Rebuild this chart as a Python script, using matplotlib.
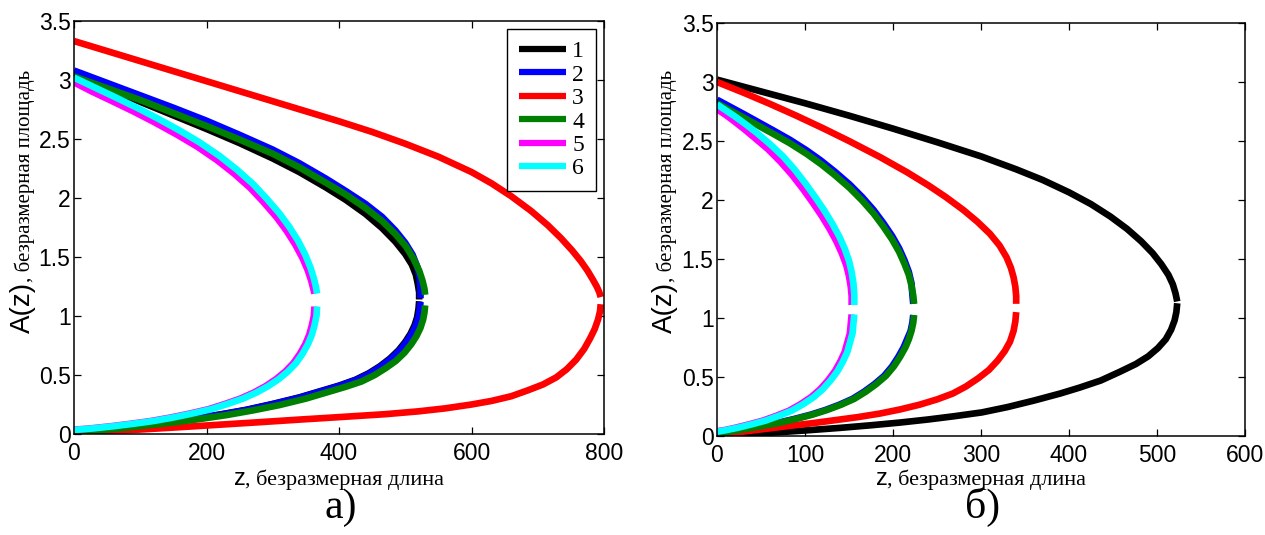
import matplotlib
matplotlib.use("Agg")
import matplotlib.pyplot as plt

# ---------------- data: panel a) (z, A) for upper and lower branches ----------------
a1_up_z = [0, 50, 100, 150, 200, 250, 300, 340, 380, 410, 440, 465, 485, 500, 510, 516, 519, 521, 521]
a1_up_A = [3.04, 2.93, 2.815, 2.70, 2.585, 2.465, 2.335, 2.22, 2.09, 1.985, 1.865, 1.745, 1.63, 1.525, 1.435, 1.35, 1.27, 1.20, 1.14]
a1_lo_z = [521, 520, 518, 514, 508, 500, 490, 477, 462, 445, 425, 400, 370, 340, 300, 260, 220, 180, 140, 100, 60, 30, 0]
a1_lo_A = [1.125, 1.06, 0.99, 0.92, 0.85, 0.78, 0.71, 0.64, 0.575, 0.515, 0.46, 0.41, 0.36, 0.31, 0.255, 0.205, 0.165, 0.13, 0.10, 0.072, 0.048, 0.035, 0.025]

a2_up_z = [0, 50, 100, 150, 200, 250, 300, 340, 380, 410, 440, 465, 485, 500, 511, 518, 522, 523, 523]
a2_up_A = [3.08, 2.975, 2.87, 2.765, 2.655, 2.535, 2.41, 2.295, 2.165, 2.06, 1.95, 1.84, 1.725, 1.62, 1.52, 1.42, 1.32, 1.23, 1.15]
a2_lo_z = [523, 522, 520, 516, 510, 502, 492, 479, 464, 447, 427, 402, 372, 342, 302, 262, 222, 182, 142, 102, 62, 31, 0]
a2_lo_A = [1.12, 1.06, 0.99, 0.92, 0.85, 0.78, 0.71, 0.64, 0.575, 0.515, 0.46, 0.41, 0.36, 0.31, 0.255, 0.205, 0.165, 0.13, 0.10, 0.072, 0.048, 0.035, 0.025]

a3_up_z = [0, 50, 100, 150, 200, 250, 300, 350, 400, 450, 500, 550, 600, 630, 660, 690, 715, 735, 752, 765, 775, 783, 789, 793, 795]
a3_up_A = [3.33, 3.245, 3.16, 3.075, 2.99, 2.905, 2.82, 2.735, 2.65, 2.56, 2.46, 2.35, 2.22, 2.125, 2.015, 1.89, 1.77, 1.66, 1.555, 1.465, 1.385, 1.31, 1.25, 1.20, 1.16]
a3_lo_z = [795, 794, 791, 786, 779, 770, 758, 744, 728, 708, 685, 660, 630, 600, 560, 520, 470, 400, 340, 280, 220, 160, 100, 50, 0]
a3_lo_A = [1.10, 1.04, 0.97, 0.89, 0.81, 0.72, 0.63, 0.55, 0.48, 0.42, 0.37, 0.32, 0.28, 0.25, 0.217, 0.192, 0.168, 0.143, 0.122, 0.10, 0.079, 0.058, 0.038, 0.023, 0.01]

a4_up_z = [0, 50, 100, 150, 200, 250, 300, 340, 380, 410, 440, 465, 485, 501, 513, 521, 526, 529, 530]
a4_up_A = [3.03, 2.93, 2.83, 2.72, 2.61, 2.495, 2.375, 2.26, 2.13, 2.03, 1.915, 1.805, 1.695, 1.59, 1.48, 1.385, 1.30, 1.23, 1.18]
a4_lo_z = [530, 529, 527, 523, 517, 509, 499, 486, 471, 454, 434, 410, 380, 350, 310, 270, 230, 190, 150, 110, 70, 35, 0]
a4_lo_A = [1.09, 1.03, 0.97, 0.90, 0.83, 0.76, 0.69, 0.62, 0.56, 0.50, 0.445, 0.40, 0.35, 0.30, 0.245, 0.20, 0.16, 0.127, 0.098, 0.072, 0.048, 0.032, 0.02]

a5_up_z = [0, 26, 56, 91, 122, 156, 186, 216, 242, 266, 286, 306, 321, 334, 345, 353, 358, 361, 363]
a5_up_A = [2.98, 2.905, 2.825, 2.73, 2.64, 2.535, 2.435, 2.32, 2.205, 2.085, 1.965, 1.835, 1.72, 1.605, 1.49, 1.385, 1.30, 1.235, 1.19]
a5_lo_z = [363, 362, 359, 355, 349, 341, 331, 319, 305, 289, 271, 251, 228, 203, 176, 146, 116, 86, 56, 26, 0]
a5_lo_A = [1.08, 1.0, 0.92, 0.84, 0.76, 0.68, 0.60, 0.53, 0.465, 0.405, 0.35, 0.30, 0.255, 0.21, 0.175, 0.14, 0.11, 0.087, 0.066, 0.048, 0.036]

a6_up_z = [0, 30, 60, 95, 126, 160, 190, 220, 246, 270, 290, 310, 325, 338, 349, 357, 362, 365, 367]
a6_up_A = [3.02, 2.94, 2.86, 2.765, 2.675, 2.57, 2.47, 2.355, 2.24, 2.12, 2.0, 1.87, 1.755, 1.64, 1.52, 1.41, 1.32, 1.25, 1.19]
a6_lo_z = [367, 366, 363, 359, 353, 345, 335, 323, 309, 293, 275, 255, 232, 207, 180, 150, 120, 90, 60, 30, 0]
a6_lo_A = [1.08, 1.0, 0.92, 0.84, 0.76, 0.68, 0.60, 0.53, 0.465, 0.405, 0.35, 0.30, 0.255, 0.21, 0.175, 0.14, 0.11, 0.087, 0.066, 0.048, 0.034]

# ---------------- data: panel б) ----------------
b1_up_z = [0, 50, 100, 150, 200, 250, 300, 340, 370, 400, 425, 447, 466, 482, 495, 505, 513, 518, 521, 523]
b1_up_A = [3.02, 2.92, 2.82, 2.715, 2.605, 2.49, 2.37, 2.26, 2.17, 2.065, 1.965, 1.86, 1.755, 1.65, 1.55, 1.455, 1.365, 1.285, 1.21, 1.14]
b1_lo_z = [523, 522, 520, 516, 510, 501, 490, 476, 458, 436, 412, 390, 360, 330, 301, 270, 240, 208, 175, 140, 102, 70, 35, 0]
b1_lo_A = [1.125, 1.05, 0.98, 0.90, 0.82, 0.745, 0.675, 0.61, 0.545, 0.47, 0.41, 0.36, 0.30, 0.245, 0.20, 0.168, 0.14, 0.114, 0.091, 0.069, 0.048, 0.032, 0.017, 0.005]

b2_up_z = [0, 15, 30, 47, 64, 83, 102, 118, 134, 151, 165, 178, 189, 199, 207, 213, 218, 221, 222, 223]
b2_up_A = [2.85, 2.79, 2.73, 2.66, 2.59, 2.51, 2.42, 2.335, 2.24, 2.13, 2.025, 1.915, 1.805, 1.695, 1.59, 1.49, 1.39, 1.295, 1.20, 1.12]
b2_lo_z = [223, 222, 220, 216, 212, 206, 199, 190, 179, 167, 154, 139, 123, 106, 88, 68, 48, 28, 12, 0]
b2_lo_A = [1.025, 0.96, 0.89, 0.82, 0.75, 0.67, 0.59, 0.51, 0.44, 0.375, 0.315, 0.265, 0.22, 0.18, 0.145, 0.11, 0.082, 0.056, 0.038, 0.02]

b3_up_z = [0, 30, 60, 90, 120, 150, 185, 216, 240, 260, 280, 296, 310, 321, 329, 334, 337, 339, 340, 340]
b3_up_A = [3.0, 2.91, 2.815, 2.715, 2.61, 2.50, 2.365, 2.235, 2.125, 2.025, 1.915, 1.815, 1.715, 1.615, 1.515, 1.425, 1.345, 1.265, 1.185, 1.12]
b3_lo_z = [340, 339, 337, 333, 327, 319, 309, 297, 283, 268, 250, 230, 208, 185, 160, 135, 110, 85, 57, 28, 0]
b3_lo_A = [1.05, 0.97, 0.89, 0.80, 0.72, 0.64, 0.56, 0.49, 0.42, 0.36, 0.31, 0.265, 0.225, 0.19, 0.16, 0.135, 0.11, 0.088, 0.062, 0.036, 0.01]

b4_up_z = [0, 15, 30, 47, 64, 83, 102, 118, 134, 151, 165, 178, 189, 199, 207, 213, 218, 221, 223, 224]
b4_up_A = [2.82, 2.76, 2.70, 2.63, 2.56, 2.48, 2.39, 2.305, 2.21, 2.10, 1.995, 1.885, 1.775, 1.665, 1.56, 1.46, 1.365, 1.275, 1.19, 1.12]
b4_lo_z = [224, 223, 221, 218, 214, 208, 201, 192, 181, 169, 156, 141, 125, 108, 90, 70, 50, 30, 14, 0]
b4_lo_A = [1.025, 0.96, 0.89, 0.82, 0.75, 0.67, 0.59, 0.51, 0.44, 0.375, 0.315, 0.265, 0.22, 0.18, 0.145, 0.11, 0.082, 0.056, 0.038, 0.02]

b5_up_z = [0, 10, 19, 31, 43, 58, 72, 85, 98, 109, 119, 128, 136, 142, 147, 150, 152, 153, 153]
b5_up_A = [2.77, 2.72, 2.67, 2.60, 2.525, 2.43, 2.325, 2.215, 2.09, 1.975, 1.865, 1.755, 1.645, 1.545, 1.445, 1.355, 1.265, 1.185, 1.11]
b5_lo_z = [153, 152, 151, 148, 145, 140, 134, 126, 117, 107, 95, 82, 67, 52, 37, 22, 10, 0]
b5_lo_A = [1.03, 0.95, 0.87, 0.79, 0.71, 0.63, 0.55, 0.47, 0.395, 0.33, 0.27, 0.215, 0.17, 0.13, 0.10, 0.072, 0.052, 0.04]

b6_up_z = [0, 10, 20, 32, 45, 60, 75, 88, 101, 112, 122, 131, 139, 145, 150, 153, 155, 156, 156]
b6_up_A = [2.81, 2.76, 2.71, 2.645, 2.57, 2.475, 2.37, 2.26, 2.135, 2.02, 1.91, 1.80, 1.69, 1.59, 1.485, 1.39, 1.295, 1.20, 1.11]
b6_lo_z = [156, 155, 154, 151, 148, 143, 137, 129, 120, 110, 98, 85, 70, 55, 40, 25, 12, 0]
b6_lo_A = [1.03, 0.95, 0.87, 0.79, 0.71, 0.63, 0.55, 0.47, 0.395, 0.33, 0.27, 0.215, 0.17, 0.13, 0.10, 0.072, 0.052, 0.036]

series_labels = ["1", "2", "3", "4", "5", "6"]
series_colors = ["#000000", "#0000ff", "#ff0000", "#008000", "#ff00ff", "#00ffff"]

a_x_ticks = [0, 200, 400, 600, 800]
b_x_ticks = [0, 100, 200, 300, 400, 500, 600]
y_ticks = [0, 0.5, 1, 1.5, 2, 2.5, 3, 3.5]
y_tick_labels = ["0", "0.5", "1", "1.5", "2", "2.5", "3", "3.5"]

a_curves = [(a1_up_z, a1_up_A, a1_lo_z, a1_lo_A), (a2_up_z, a2_up_A, a2_lo_z, a2_lo_A),
            (a3_up_z, a3_up_A, a3_lo_z, a3_lo_A), (a4_up_z, a4_up_A, a4_lo_z, a4_lo_A),
            (a5_up_z, a5_up_A, a5_lo_z, a5_lo_A), (a6_up_z, a6_up_A, a6_lo_z, a6_lo_A)]
b_curves = [(b1_up_z, b1_up_A, b1_lo_z, b1_lo_A), (b2_up_z, b2_up_A, b2_lo_z, b2_lo_A),
            (b3_up_z, b3_up_A, b3_lo_z, b3_lo_A), (b4_up_z, b4_up_A, b4_lo_z, b4_lo_A),
            (b5_up_z, b5_up_A, b5_lo_z, b5_lo_A), (b6_up_z, b6_up_A, b6_lo_z, b6_lo_A)]

SANS = ["Liberation Sans", "DejaVu Sans"]
SERIF = ["Liberation Serif", "DejaVu Serif"]

W, H = 1265, 535
fig = plt.figure(figsize=(W / 100, H / 100), dpi=100)
fig.patch.set_facecolor("white")


def px_rect(l, t, r, b):
    return [l / W, 1 - b / H, (r - l) / W, (b - t) / H]


ax_a = fig.add_axes(px_rect(74, 21, 604, 434))
ax_b = fig.add_axes(px_rect(717, 23, 1245, 436))

LW = 4.8
for ax, curves, xt, xmax in [(ax_a, a_curves, a_x_ticks, 800), (ax_b, b_curves, b_x_ticks, 600)]:
    handles = []
    for (uz, uA, lz, lA), col, lab in zip(curves, series_colors, series_labels):
        h, = ax.plot(uz, uA, color=col, lw=LW, solid_capstyle="butt",
                     solid_joinstyle="round", label=lab)
        ax.plot(lz, lA, color=col, lw=LW, solid_capstyle="butt", solid_joinstyle="round")
        handles.append(h)
    ax.set_xlim(0, xmax)
    ax.set_ylim(0, 3.5)
    ax.set_xticks(xt)
    ax.set_xticklabels([str(v) for v in xt])
    ax.set_yticks(y_ticks)
    ax.set_yticklabels(y_tick_labels)
    ax.tick_params(direction="in", length=5, width=0.9, top=True, right=True,
                   labelsize=16.5, colors="black")
    ax.tick_params(axis="x", pad=6)
    ax.tick_params(axis="y", pad=2.5)
    for lbl in ax.get_xticklabels() + ax.get_yticklabels():
        lbl.set_fontfamily(SANS)
    for s in ax.spines.values():
        s.set_linewidth(1.1)
        s.set_color("black")
    if ax is ax_a:
        leg = ax.legend(handles=handles, loc="upper right",
                        bbox_to_anchor=(596 / W, 1 - 29 / H), bbox_transform=fig.transFigure,
                        prop={"family": SERIF, "size": 17}, frameon=True, fancybox=False,
                        edgecolor="black", framealpha=1, handlelength=2.0, handletextpad=0.25,
                        labelspacing=0.08, borderpad=0.5, borderaxespad=0)
        leg.get_frame().set_linewidth(1.0)
        for lh in leg.get_lines():
            lh.set_linewidth(4.5)

fig.canvas.draw()
renderer = fig.canvas.get_renderer()


def xlabel_pair(cx, baseline_px):
    y = 1 - baseline_px / H
    t1 = fig.text(0, y, "z", fontsize=17, family=SANS, ha="left", va="baseline")
    t2 = fig.text(0, y, ", безразмерная длина", fontsize=16, family=SERIF, ha="left", va="baseline")
    w1 = t1.get_window_extent(renderer).width
    w2 = t2.get_window_extent(renderer).width
    x0 = cx - (w1 + w2) / 2
    t1.set_x(x0 / W)
    t2.set_x((x0 + w1) / W)


def ylabel_pair(baseline_x_px, bottom_px):
    x = baseline_x_px / W
    t1 = fig.text(x, 1 - bottom_px / H, "A(z)", fontsize=20, family=SANS, rotation=90,
                  rotation_mode="anchor", ha="left", va="baseline")
    h1 = t1.get_window_extent(renderer).height
    fig.text(x, 1 - (bottom_px - h1) / H, ", безразмерная площадь", fontsize=15, family=SERIF,
             rotation=90, rotation_mode="anchor", ha="left", va="baseline")


xlabel_pair(339, 485)
xlabel_pair(981, 485)
ylabel_pair(30, 333)
ylabel_pair(672, 333)

fig.text(341 / W, 1 - 518 / H, "а)", fontsize=30, family=SERIF, ha="center", va="baseline")
fig.text(983 / W, 1 - 518 / H, "б)", fontsize=30, family=SERIF, ha="center", va="baseline")

fig.savefig("out.png", dpi=100, facecolor="white")
